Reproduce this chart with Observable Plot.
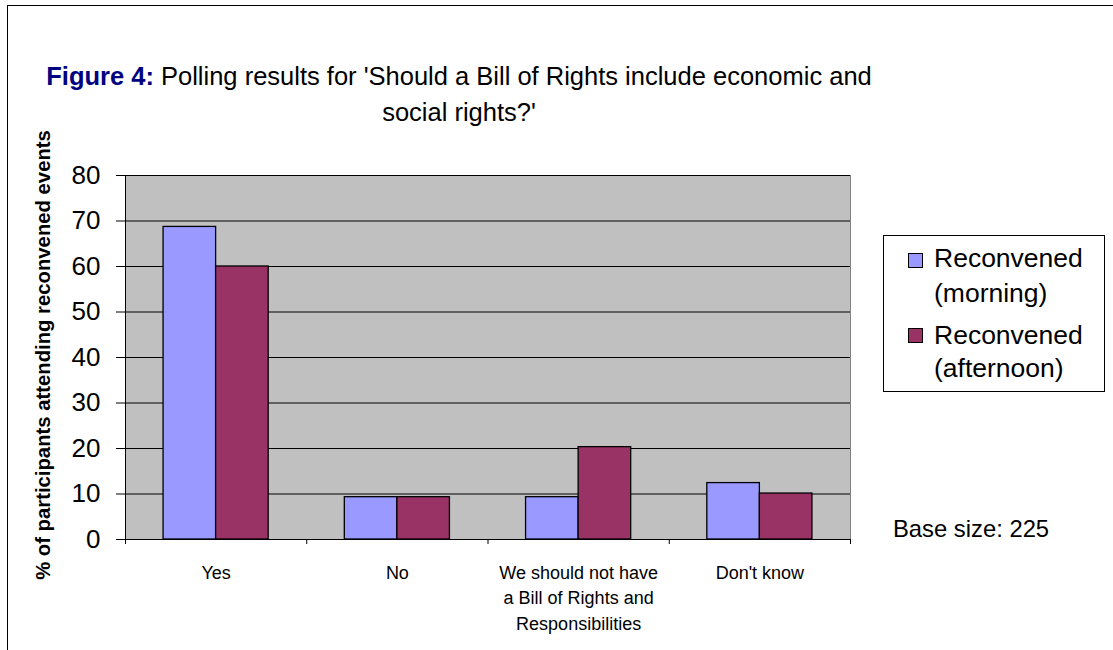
<!DOCTYPE html>
<html>
<head>
<meta charset="utf-8">
<script src="https://cdn.jsdelivr.net/npm/d3@7"></script>
<script src="https://cdn.jsdelivr.net/npm/@observablehq/plot@0.6"></script>
<style>
  body { margin: 0; background: #fff; overflow: hidden; font-family: "Liberation Sans", Arial, sans-serif; color: #000; }
  #wrap { position: relative; width: 1113px; height: 650px; overflow: hidden; }
  #chart { position: absolute; left: 0; top: 0; }
  #border { position: absolute; left: 7px; top: 5px; width: 1300px; height: 900px; border: 1px solid #000; box-sizing: border-box; pointer-events: none; }
  #title { position: absolute; left: 0; top: 58px; width: 918px; text-align: center; font-size: 25.5px; line-height: 36px; white-space: nowrap; }
  #title b { color: #000080; }
  #ylabel { position: absolute; left: 43px; top: 355px; transform: translate(-50%, -50%) rotate(-90deg); font-size: 20.3px; font-weight: bold; white-space: nowrap; line-height: 1; }
  #legend { position: absolute; left: 883px; top: 235px; width: 222px; height: 157px; border: 1px solid #000; box-sizing: border-box; background: #fff; }
  .sw { position: absolute; width: 15px; height: 15px; border: 1px solid #000; box-sizing: border-box; }
  .lt { position: absolute; font-size: 26.5px; line-height: 1; white-space: nowrap; }
  #base { position: absolute; left: 893px; top: 517px; font-size: 23.8px; line-height: 1; white-space: nowrap; }
</style>
</head>
<body>
<div id="wrap">
  <div id="chart"></div>
  <div id="border"></div>
  <div id="title"></div>
  <div id="ylabel"></div>
  <div id="legend"></div>
  <div id="base"></div>
</div>
<script>
// ---- data ----
const categories = ["Yes", "No", "We should not have\na Bill of Rights and\nResponsibilities", "Don't know"];
const morning = [68.7, 9.3, 9.3, 12.4];
const afternoon = [60.0, 9.3, 20.3, 10.1];
const seriesNames = ["Reconvened (morning)", "Reconvened (afternoon)"];
const legendLines = [["Reconvened", "(morning)"], ["Reconvened", "(afternoon)"]];
const seriesColors = ["#9999FF", "#993366"];
const yTicks = [0, 10, 20, 30, 40, 50, 60, 70, 80];
const titleBold = "Figure 4:";
const titleLine1 = " Polling results for 'Should a Bill of Rights include economic and";
const titleLine2 = "social rights?'";
const yLabel = "% of participants attending reconvened events";
const baseNote = "Base size: 225";

// ---- table ----
const rows = categories.flatMap((c, i) => [
  {cat: c, i, s: 0, series: seriesNames[0], value: morning[i]},
  {cat: c, i, s: 1, series: seriesNames[1], value: afternoon[i]}
]);
const barStart = [0.21, 0.5];
const barEnd = [0.5, 0.79];

const chart = Plot.plot({
  width: 1113,
  height: 650,
  marginLeft: 125,
  marginRight: 263,
  marginTop: 175,
  marginBottom: 111,
  style: {fontFamily: "Liberation Sans, Arial, sans-serif", color: "#000", background: "transparent", overflow: "visible"},
  x: {domain: [0, categories.length], axis: null},
  y: {domain: [0, 80], axis: null},
  color: {domain: seriesNames, range: seriesColors},
  marks: [
    Plot.frame({fill: "#C0C0C0", stroke: "#808080"}),
    Plot.gridY(yTicks, {stroke: "#000", strokeOpacity: 1, strokeWidth: 1}),
    Plot.rectY(rows, {
      x1: d => d.i + barStart[d.s],
      x2: d => d.i + barEnd[d.s],
      y1: 0,
      y2: "value",
      fill: "series",
      stroke: "#000",
      strokeWidth: 1.3
    }),
    Plot.ruleX([0], {stroke: "#000"}),
    Plot.ruleY([0], {stroke: "#000"}),
    Plot.axisY({ticks: yTicks, tickSize: 9, tickPadding: 16, fontSize: 26, label: null, stroke: "#000"}),
    Plot.axisX({ticks: d3.range(categories.length + 1), tickSize: 5, tickFormat: () => "", label: null, stroke: "#000"}),
    Plot.axisX({
      ticks: categories.map((c, i) => i + 0.5),
      tickSize: 0,
      tickPadding: 21,
      fontSize: 18,
      lineHeight: 1.42,
      tickFormat: d => categories[Math.floor(d)],
      label: null
    })
  ]
});
document.getElementById("chart").appendChild(chart);

// ---- title ----
const title = document.getElementById("title");
const b = document.createElement("b");
b.textContent = titleBold;
title.appendChild(b);
title.appendChild(document.createTextNode(titleLine1));
title.appendChild(document.createElement("br"));
title.appendChild(document.createTextNode(titleLine2));

document.getElementById("ylabel").textContent = yLabel;
document.getElementById("base").textContent = baseNote;

// ---- legend ----
const legend = document.getElementById("legend");
const swTops = [17, 92];
const lineTops = [[9, 44], [86, 119]];
seriesNames.forEach((name, k) => {
  const sw = document.createElement("div");
  sw.className = "sw";
  sw.style.left = "24px";
  sw.style.top = swTops[k] + "px";
  sw.style.background = seriesColors[k];
  legend.appendChild(sw);
  legendLines[k].forEach((t, j) => {
    const el = document.createElement("div");
    el.className = "lt";
    el.style.left = "50px";
    el.style.top = lineTops[k][j] + "px";
    el.textContent = t;
    legend.appendChild(el);
  });
});
</script>
</body>
</html>
